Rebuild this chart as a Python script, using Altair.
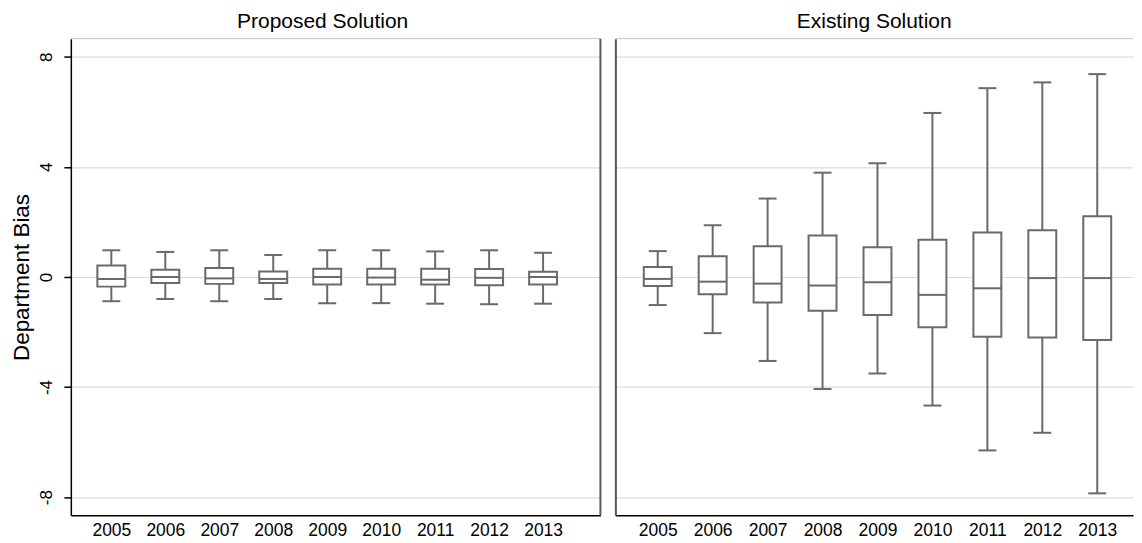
import altair as alt
import pandas as pd

years = [2005, 2006, 2007, 2008, 2009, 2010, 2011, 2012, 2013]

# Proposed Solution (left panel)
p_lo = [-0.88, -0.80, -0.88, -0.80, -0.95, -0.95, -0.97, -0.99, -0.97]
p_q1 = [-0.35, -0.22, -0.25, -0.22, -0.27, -0.27, -0.27, -0.30, -0.27]
p_med = [-0.07, 0.00, -0.05, -0.07, 0.00, -0.02, -0.10, -0.03, 0.00]
p_q3 = [0.42, 0.26, 0.33, 0.20, 0.30, 0.30, 0.30, 0.29, 0.19]
p_hi = [0.97, 0.91, 0.97, 0.80, 0.97, 0.97, 0.93, 0.97, 0.88]

# Existing Solution (right panel)
e_lo = [-1.02, -2.04, -3.05, -4.07, -3.51, -4.67, -6.30, -5.66, -7.86]
e_q1 = [-0.33, -0.63, -0.93, -1.23, -1.38, -1.83, -2.17, -2.20, -2.29]
e_med = [-0.07, -0.17, -0.24, -0.31, -0.19, -0.65, -0.41, -0.04, -0.04]
e_q3 = [0.36, 0.75, 1.12, 1.51, 1.08, 1.35, 1.62, 1.70, 2.21]
e_hi = [0.94, 1.88, 2.85, 3.79, 4.13, 5.96, 6.86, 7.07, 7.37]

y_ticks = [-8, -4, 0, 4, 8]
panel_titles = ["Proposed Solution", "Existing Solution"]

GRAY = "#6a6a6a"
FONT = "Liberation Sans"
H = 478


def panel(lo, q1, med, q3, hi, title, xdom, width, left, title_dx):
    df = pd.DataFrame(dict(year=years, lo=lo, q1=q1, med=med, q3=q3, hi=hi))
    xaxis = alt.Axis(values=years, format="d", title=None, grid=False, ticks=False,
                     tickSize=0, labelPadding=6, labelFontSize=17.5, labelColor="black",
                     domainColor="black", domainWidth=1.5, labelFlush=False,
                     labelOverlap=False)
    x = alt.X("year:Q", scale=alt.Scale(domain=xdom, nice=False, zero=False), axis=xaxis)
    yscale = alt.Scale(domain=[-8.66, 8.66], nice=False, zero=False)
    if left:
        yaxis = alt.Axis(values=y_ticks, title="Department Bias", titleFontSize=22.5,
                         titleFontWeight="normal", titleColor="black", titlePadding=4,
                         labelAngle=270, labelAlign="center", labelBaseline="bottom",
                         labelExpr="datum.value",
                         labelFontSize=17, labelColor="black", labelPadding=8,
                         tickSize=7, tickColor="black", tickWidth=1.5,
                         domainColor="black", domainWidth=1.5,
                         grid=True, gridColor="#dcdcdc", gridWidth=1.2)
    else:
        yaxis = alt.Axis(values=y_ticks, title=None, labels=False, ticks=False, tickSize=0,
                         domainColor="#555555", domainWidth=2,
                         grid=True, gridColor="#dcdcdc", gridWidth=1.2)
    base = alt.Chart(df)
    whisk = base.mark_rule(color=GRAY, strokeWidth=2).encode(
        x=x, y=alt.Y("lo:Q", scale=yscale, axis=yaxis), y2="hi:Q")
    box = base.mark_bar(size=28, fill="white", stroke=GRAY, strokeWidth=2).encode(
        x="year:Q", y="q1:Q", y2="q3:Q")
    medm = base.mark_tick(orient="horizontal", size=28, thickness=2, color=GRAY, opacity=1).encode(
        x="year:Q", y="med:Q")
    caplo = base.mark_tick(orient="horizontal", size=18, thickness=2, color=GRAY, opacity=1).encode(
        x="year:Q", y="lo:Q")
    caphi = base.mark_tick(orient="horizontal", size=18, thickness=2, color=GRAY, opacity=1).encode(
        x="year:Q", y="hi:Q")
    frame = alt.Chart(pd.DataFrame({"k": [0]}))
    top = frame.mark_rule(color="#c4c4c4", strokeWidth=1).encode(
        x=alt.value(0), x2=alt.value(width), y=alt.value(0))
    layers = [whisk, box, medm, caplo, caphi, top]
    if left:
        right = frame.mark_rule(color="#5a5a5a", strokeWidth=2).encode(
            x=alt.value(width), y=alt.value(0), y2=alt.value(H))
        layers.append(right)
    return alt.layer(*layers).properties(
        width=width, height=H,
        title=alt.TitleParams(title, fontSize=21, font=FONT, fontWeight="normal",
                              color="black", anchor="middle", offset=6, dx=title_dx))


left = panel(p_lo, p_q1, p_med, p_q3, p_hi, panel_titles[0], [2004.342, 2013.97], 531, True, -13)
right = panel(e_lo, e_q1, e_med, e_q3, e_hi, panel_titles[1], [2004.32, 2013.56], 519, False, 0)

chart = alt.hconcat(left, right, spacing=13).properties(
    padding={"left": 3, "top": 2, "right": 0, "bottom": 0}
).configure(font=FONT).configure_view(strokeWidth=0)

chart.save("out.html", embed_options={"renderer": "svg", "actions": False})
